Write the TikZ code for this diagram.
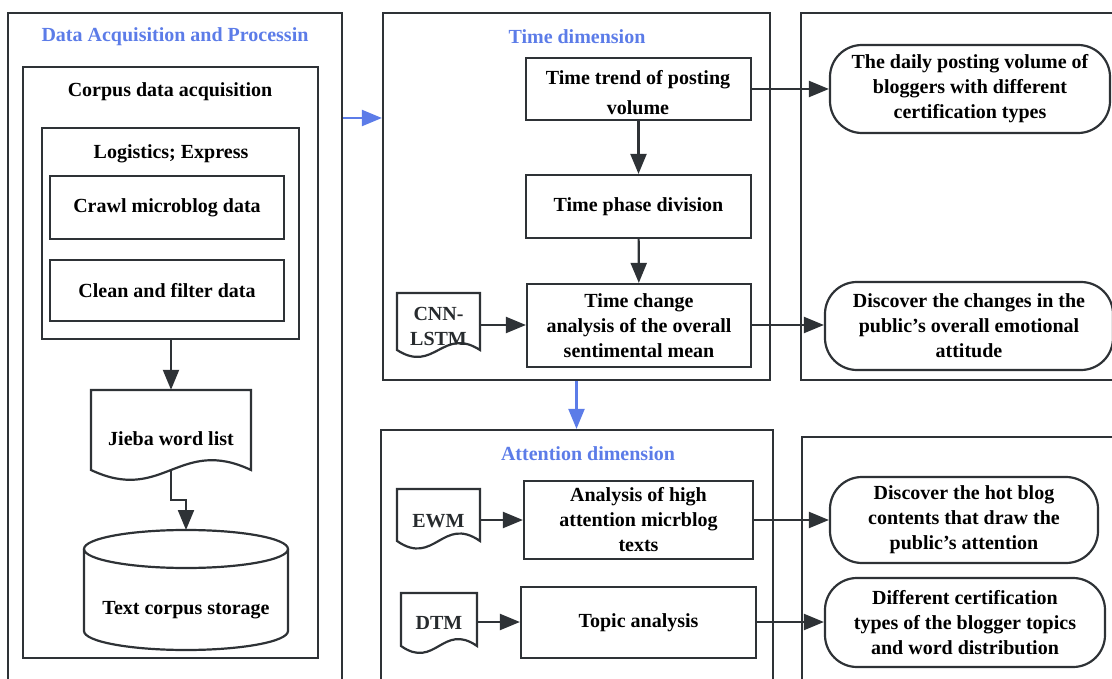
\documentclass[tikz,border=0pt]{standalone}
\usepackage{fontspec}
\setmainfont{Liberation Serif}
\usetikzlibrary{arrows.meta,calc}
\definecolor{ln}{HTML}{2E3236}
\definecolor{bl}{HTML}{5C7CE8}
\tikzset{
  x=1pt, y=-1pt,
  txt/.style={font=\bfseries\fontsize{20}{25}\selectfont},
  box/.style={txt, draw=ln, line width=2.2pt, rectangle, inner sep=0pt, align=center},
  frame/.style={draw=ln, line width=2.2pt, rectangle, inner sep=0pt},
  rbox/.style={box, rounded corners=32pt},
  ghost/.style={txt, rectangle, inner sep=0pt, align=center},
  ghostg/.style={ghost, text=ln!85!black},
  ttl/.style={txt, text=bl, inner sep=0pt},
  lbl/.style={txt, inner sep=0pt, align=center},
  shp/.style={draw=ln, line width=2.2pt},
  arr/.style={draw=ln, line width=2.2pt, -{Triangle[length=20pt,width=16pt]}},
  barr/.style={draw=bl, line width=2.2pt, -{Triangle[length=20pt,width=16pt]}},
}
% \R{style}{x0}{y0}{x1}{y1}{name} {text};
\newcommand\R[6]{\node[#1, minimum width={#4-#2}, minimum height={#5-#3}] (#6) at ({(#2+#4)/2},{(#3+#5)/2})}
% \docshp{x0}{y0}{x1}{yb}{a}
\newcommand\docshp[5]{\draw[shp, line join=miter] (#1,#4) -- (#1,#2) -- (#3,#2) -- (#3,#4)
  .. controls ({#3-0.45*(#3-#1)},{#4-#5}) and ({#1+0.45*(#3-#1)},{#4+#5}) .. cycle;}
\begin{document}
\begin{tikzpicture}
\useasboundingbox (0,0) rectangle (1112,679);
\clip (0,0) rectangle (1112,679);

% ---------- left column ----------
\R{frame}{8}{13}{342}{700}{leftF} {};
\node[ttl] (leftT) at (175,37) {Data Acquisition and Processin};
\R{frame}{23}{67}{318}{658}{corpusF} {};
\node[lbl] (corpusT) at (170,92) {Corpus data acquisition};
\R{frame}{42}{128}{299}{339}{logF} {};
\node[lbl] (logT) at (171,154) {Logistics; Express};
\R{box}{50}{176}{284}{239}{crawl} {Crawl microblog data};
\R{box}{50}{260}{284}{321}{clean} {Clean and filter data};

\docshp{91}{390}{251}{470}{34}
\R{ghost}{91}{390}{251}{488}{jieba} {Jieba word list};
\coordinate (jbout) at (171,470);

% cylinder
\draw[shp] (84,549) -- (84,631) arc[start angle=180, end angle=0, x radius=102, y radius=19] -- (288,549);
\draw[shp] (186,549) ellipse[x radius=102, y radius=19];
\R{ghost}{84}{568}{288}{652}{store} {Text corpus storage};
\coordinate (cyltop) at (186,530);

\draw[arr] (logF.south -| jieba) -- (jieba.north);
\draw[arr] (jbout) -- (171,500) -- (186,500) -- (cyltop);

% ---------- time dimension ----------
\R{frame}{383}{13}{770}{380}{timeF} {};
\node[ttl] (timeT) at (577,37) {Time dimension};
\R{box}{526}{58}{751}{120}{trend} {};
\node[lbl] (trendT) at (638,93) {Time trend of posting\\[5pt]volume};
\R{box}{526}{175}{751}{238}{phase} {Time phase division};
\R{box}{527}{284}{751}{367}{change} {};
\node[lbl] (changeT) at (639,326) {Time change\\analysis of the overall\\sentimental mean};
\docshp{397}{293}{480}{350}{24}
\R{ghostg}{397}{301}{480}{351}{cnn} {CNN-\\LSTM};

\draw[arr] (trend) -- (phase);
\draw[arr] (phase) -- (change);
\draw[arr] (cnn.east |- 0,325) -- (change.west |- 0,325);

\R{frame}{801}{13}{1130}{380}{rtF} {};
\R{rbox}{830}{45}{1110}{133}{daily} {The daily posting volume of\\bloggers with different\\certification types};
\R{rbox}{825}{282}{1113}{370}{disc} {Discover the changes in the\\public's overall emotional\\attitude};
\draw[arr] (trend.east |- daily) -- (daily.west);
\draw[arr] (change.east |- 0,325) -- (disc.west |- 0,325);

% ---------- attention dimension ----------
\R{frame}{381}{430}{773}{700}{attF} {};
\node[ttl] (attT) at (588,454) {Attention dimension};
\R{box}{524}{481}{753}{559}{high} {Analysis of high\\attention micrblog\\texts};
\R{box}{521}{587}{756}{658}{topic} {Topic analysis};
\docshp{397}{489}{480}{541}{26}
\R{ghostg}{397}{489}{480}{553}{ewm} {EWM};
\docshp{401}{593}{477}{646}{24}
\R{ghostg}{401}{593}{477}{653}{dtm} {DTM};
\draw[arr] (ewm.east |- 0,520) -- (high.west |- 0,520);
\draw[arr] (dtm.east |- 0,622) -- (topic.west |- 0,622);

\R{frame}{802}{437}{1130}{700}{rbF} {};
\R{rbox}{830}{477}{1098}{563}{hot} {Discover the hot blog\\contents that draw the\\public's attention};
\R{rbox}{825}{578}{1105}{667}{cert} {Different certification\\types of the blogger topics\\and word distribution};
\draw[arr] (high.east |- 0,520) -- (hot.west |- 0,520);
\draw[arr] (topic.east |- 0,622) -- (cert.west |- 0,622);

% ---------- blue connectors ----------
\draw[barr] (leftF.east |- 0,118) -- (timeF.west |- 0,118);
\draw[barr] (timeF.south) -- (attF.north -| timeF.south);
\end{tikzpicture}
\end{document}
